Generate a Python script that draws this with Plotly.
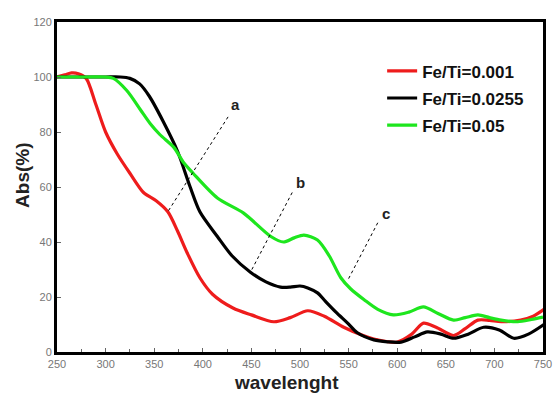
import plotly.graph_objects as go

# Fe/Ti = 0.001 (a)
x_red = [250, 258, 265, 272, 280, 290, 300, 312, 325, 339, 352, 364, 374, 384, 397, 410, 431, 450, 473, 490, 508, 525, 545, 565, 580, 600, 615, 627, 640, 658, 670, 683, 695, 707, 727, 740, 751]
y_red = [100, 100.8, 101.5, 101.2, 99.5, 90, 80, 72, 65, 58, 55, 51, 44, 36, 27, 21, 16, 13.5, 11, 12.5, 15, 13, 9, 6, 4.4, 3.6, 6.5, 10.5, 9, 6, 8.5, 11.6, 11.5, 11, 11.6, 13, 15.5]

# Fe/Ti = 0.0255 (b)
x_blk = [250, 280, 300, 315, 325, 335, 345, 359, 374, 387, 397, 415, 430, 449, 465, 480, 490, 500, 508, 518, 526, 537, 549, 559, 576, 590, 604, 618, 631, 645, 658, 673, 689, 705, 720, 735, 751]
y_blk = [100, 100, 100, 100, 99.5, 97.5, 93, 84, 73, 60, 51, 42, 35, 29, 25.5, 23.6, 23.6, 24, 23.3, 21.5, 18.5, 14.5, 10.5, 7, 4.4, 3.7, 3.6, 5.5, 7.3, 6.5, 5, 6.5, 9, 8, 5, 6.5, 10]

# Fe/Ti = 0.05 (c)
x_grn = [250, 280, 300, 308, 322, 336, 346, 356, 370, 380, 390, 415, 442, 470, 483, 494, 504, 518, 530, 542, 552, 566, 580, 596, 612, 627, 642, 658, 670, 683, 695, 707, 724, 738, 750]
y_grn = [100, 100, 100, 99.5, 95, 88, 83, 79, 74.5, 69, 65, 56, 50.5, 42, 40, 41.5, 42.5, 40.7, 35, 27, 23, 19, 15.5, 13.5, 14.5, 16.4, 14, 11.6, 12.5, 13.5, 12.5, 11.6, 11, 11.8, 12.7]

names = ["Fe/Ti=0.001", "Fe/Ti=0.0255", "Fe/Ti=0.05"]
colors = ["#ee1c1c", "#000000", "#1ee61e"]

# annotation leader lines
labels = ["a", "b", "c"]
lab_x = [434, 500, 588]
lab_y = [90, 61.5, 50.5]
tip_x = [426, 492, 580]
tip_y = [85.5, 58, 47]
end_x = [364, 449, 549]
end_y = [51, 29, 26]

x_title = "wavelenght"
y_title = "Abs(%)"

fig = go.Figure()
for i, (xs, ys, n, c) in enumerate(zip([x_red, x_blk, x_grn], [y_red, y_blk, y_grn], names, colors)):
    fig.add_trace(go.Scatter(x=xs, y=ys, name=n, mode="lines", legendgroup=f"g{i}",
                             line=dict(color=c, width=3.2, shape="spline", smoothing=0.8)))

for lb, lx, ly, tx, ty, ex, ey in zip(labels, lab_x, lab_y, tip_x, tip_y, end_x, end_y):
    fig.add_trace(go.Scatter(x=[tx, ex], y=[ty, ey], mode="lines", showlegend=False,
                             line=dict(color="black", width=1, dash="dot")))
    fig.add_annotation(x=lx, y=ly, text=f"<b>{lb}</b>", showarrow=False,
                       font=dict(family="Arial, Liberation Sans", size=15, color="#222"))

# axis titles placed as annotations (offset like in the original)
fig.add_annotation(xref="paper", yref="paper", x=0.472, y=-0.093, yanchor="middle",
                   text=f"<b>{x_title}</b>", showarrow=False,
                   font=dict(family="Arial, Liberation Sans", size=19, color="#222"))
fig.add_annotation(xref="paper", yref="paper", x=-0.071, y=0.535, xanchor="center",
                   text=f"<b>{y_title}</b>", showarrow=False, textangle=-90,
                   font=dict(family="Arial, Liberation Sans", size=19, color="#222"))

axis_common = dict(showline=True, linecolor="black", linewidth=3, mirror=True, automargin=False,
                   ticks="inside", ticklen=4, tickcolor="#666", showgrid=False, zeroline=False,
                   ticklabeloverflow="allow",
                   tickfont=dict(family="Liberation Sans Narrow, Arial", size=11, color="#777"))

fig.update_xaxes(range=[250, 750], dtick=50, tick0=250,
                 minor=dict(ticks="inside", ticklen=3, dtick=25, tickcolor="#666"),
                 **axis_common)
fig.update_yaxes(range=[0, 120], dtick=20, **axis_common)

fig.update_layout(
    width=555, height=394,
    margin=dict(l=57, r=12, t=22, b=42),
    paper_bgcolor="white", plot_bgcolor="white",
    legend=dict(x=0.669, y=0.905, xanchor="left", yanchor="top", bgcolor="rgba(0,0,0,0)",
                font=dict(family="Arial, Liberation Sans", size=17, color="#111", weight="bold"),
                itemwidth=30, tracegroupgap=2),
    showlegend=True,
)

fig.write_html("out.html", config={"displayModeBar": False},
               post_script="document.body.style.margin='0';document.body.style.overflow='hidden';")
